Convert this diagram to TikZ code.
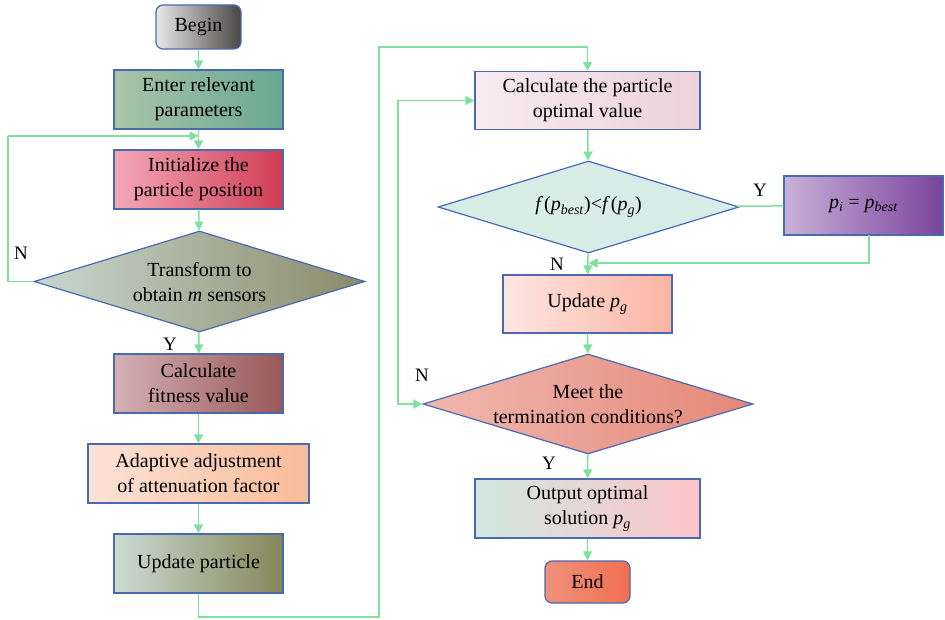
\documentclass[tikz,border=0pt]{standalone}
\usepackage{fontspec}
\setmainfont{Liberation Serif}
\usetikzlibrary{arrows.meta,shapes.geometric,calc}
\definecolor{bord}{HTML}{4A6AB0}
\definecolor{conn}{HTML}{80E0A0}
\newcommand{\vsub}[2]{\textit{#1}\textsubscript{\textit{#2}}}
\tikzset{
  box/.style={draw=bord, line width=1.2pt, minimum width=169pt, minimum height=59pt, inner sep=0pt, align=center, font=\fontsize{20}{25}\selectfont},
  rbox/.style={box, rounded corners=7pt, minimum width=85pt, minimum height=44pt},
  dia/.style={draw=bord, line width=1.2pt, shape=diamond, inner sep=0pt},
  txt/.style={align=center, inner sep=0pt, font=\fontsize{20}{25}\selectfont},
  lab/.style={inner sep=0pt, font=\fontsize{19}{22}\selectfont},
  con/.style={draw=conn, line width=1.5pt, -{Triangle[length=9pt,width=9pt]}},
  conl/.style={draw=conn, line width=1.5pt}
}
\begin{document}
\begin{tikzpicture}[x=1pt,y=-1pt]
\useasboundingbox (0,0) rectangle (945,620);
% left column
\node[rbox, left color={rgb,255:red,232;green,232;blue,232}, right color={rgb,255:red,74;green,70;blue,70}] (begin) at (198.5,27) {Begin};
\node[box, left color={rgb,255:red,170;green,196;blue,168}, right color={rgb,255:red,104;green,168;blue,144}] (enter) at (198.5,99.5) {Enter relevant\\parameters};
\node[box, left color={rgb,255:red,244;green,168;blue,184}, right color={rgb,255:red,208;green,60;blue,84}] (init) at (198.5,179.5) {Initialize the\\particle position};
\node[dia, minimum width=331pt, minimum height=101pt, left color={rgb,255:red,200;green,216;blue,208}, right color={rgb,255:red,138;green,138;blue,104}] (d1) at (199.5,281.5) {};
\node[txt] (d1t) at (199.5,282) {Transform to\\obtain \textit{m} sensors};
\node[box, left color={rgb,255:red,212;green,176;blue,180}, right color={rgb,255:red,152;green,88;blue,88}] (fit) at (198.5,383.5) {Calculate\\fitness value};
\node[box, minimum width=221pt, left color={rgb,255:red,253;green,226;blue,216}, right color={rgb,255:red,248;green,188;blue,152}] (adapt) at (198.5,473.5) {Adaptive adjustment\\of attenuation factor};
\node[box, left color={rgb,255:red,204;green,220;blue,212}, right color={rgb,255:red,132;green,134;blue,88}] (upd) at (198.5,563.5) {Update particle};
% right column
\node[box, minimum width=225pt, minimum height=58pt, left color={rgb,255:red,248;green,234;blue,240}, right color={rgb,255:red,236;green,210;blue,218}] (copt) at (587.5,100.5) {Calculate the particle\\optimal value};
\node[dia, minimum width=301pt, minimum height=92pt, left color={rgb,255:red,214;green,237;blue,228}, right color={rgb,255:red,216;green,236;blue,232}] (d2) at (588.5,207) {};
\node[txt] (d2t) at (588.5,207) {\textit{f}\kern1pt(\vsub{p}{best})<\textit{f}\kern1pt(\vsub{p}{g})};
\node[box, minimum width=159pt, left color={rgb,255:red,200;green,176;blue,216}, right color={rgb,255:red,122;green,68;blue,156}] (pbox) at (863.5,205.5) {\vsub{p}{i} = \vsub{p}{best}};
\node[box, minimum height=58pt, left color={rgb,255:red,253;green,230;blue,226}, right color={rgb,255:red,252;green,180;blue,164}] (upg) at (587.5,304) {Update \vsub{p}{g}};
\node[dia, minimum width=330pt, minimum height=100pt, left color={rgb,255:red,240;green,184;blue,176}, right color={rgb,255:red,228;green,136;blue,120}] (d3) at (588,404) {};
\node[txt] (d3t) at (588,404) {Meet the\\termination conditions?};
\node[box, minimum width=225pt, left color={rgb,255:red,208;green,232;blue,224}, right color={rgb,255:red,252;green,196;blue,200}] (out) at (587.5,508.5) {Output optimal\\solution \vsub{p}{g}};
\node[rbox, minimum height=42pt, left color={rgb,255:red,240;green,144;blue,124}, right color={rgb,255:red,240;green,112;blue,80}] (end) at (587.5,582) {End};
% coordinates
\coordinate (j1) at (198.5,136);
\coordinate (l1) at (8,281.5);
\coordinate (l2) at (8,136);
\coordinate (b1) at (198.5,617);
\coordinate (b2) at (379,617);
\coordinate (b3) at (379,47);
\coordinate (b4) at (587.5,47);
\coordinate (j2) at (588.5,263);
\coordinate (p1) at (869,235);
\coordinate (r1) at (398,404);
% connectors
\draw[con] (begin) -- (enter);
\draw[conl] (enter) -- (j1);
\draw[con] (j1) -- (init);
\draw[con] (l2) -- (j1);
\draw[conl] (d1.west) -- (l1) -- (l2);
\draw[con] (init) -- (d1);
\draw[con] (d1) -- (fit);
\draw[con] (fit) -- (adapt);
\draw[con] (adapt) -- (upd);
\draw[conl] (upd) -- (b1) -- (b2) -- (b3) -- (b4);
\draw[con] (b4) -- (copt);
\draw[con] (copt) -- (d2);
\draw[conl] (d2) -- (pbox);
\draw[con] (d2) -- (upg);
\draw[con] (p1) |- (j2);
\draw[con] (upg) -- (d3);
\draw[con] (d3) -- (out);
\draw[con] (out) -- (end);
\draw[draw=conn, line width=1.5pt, {Triangle[length=9pt,width=9pt]}-{Triangle[length=9pt,width=9pt]}] (d3.west) -- (r1) |- (copt.west);
% labels
\node[lab] (nl1) at (21,253) {N};
\node[lab] (yl1) at (170,344) {Y};
\node[lab] (yl2) at (760,190) {Y};
\node[lab] (nl2) at (557,264) {N};
\node[lab] (nl3) at (422,375) {N};
\node[lab] (yl3) at (549,463) {Y};
\end{tikzpicture}
\end{document}
